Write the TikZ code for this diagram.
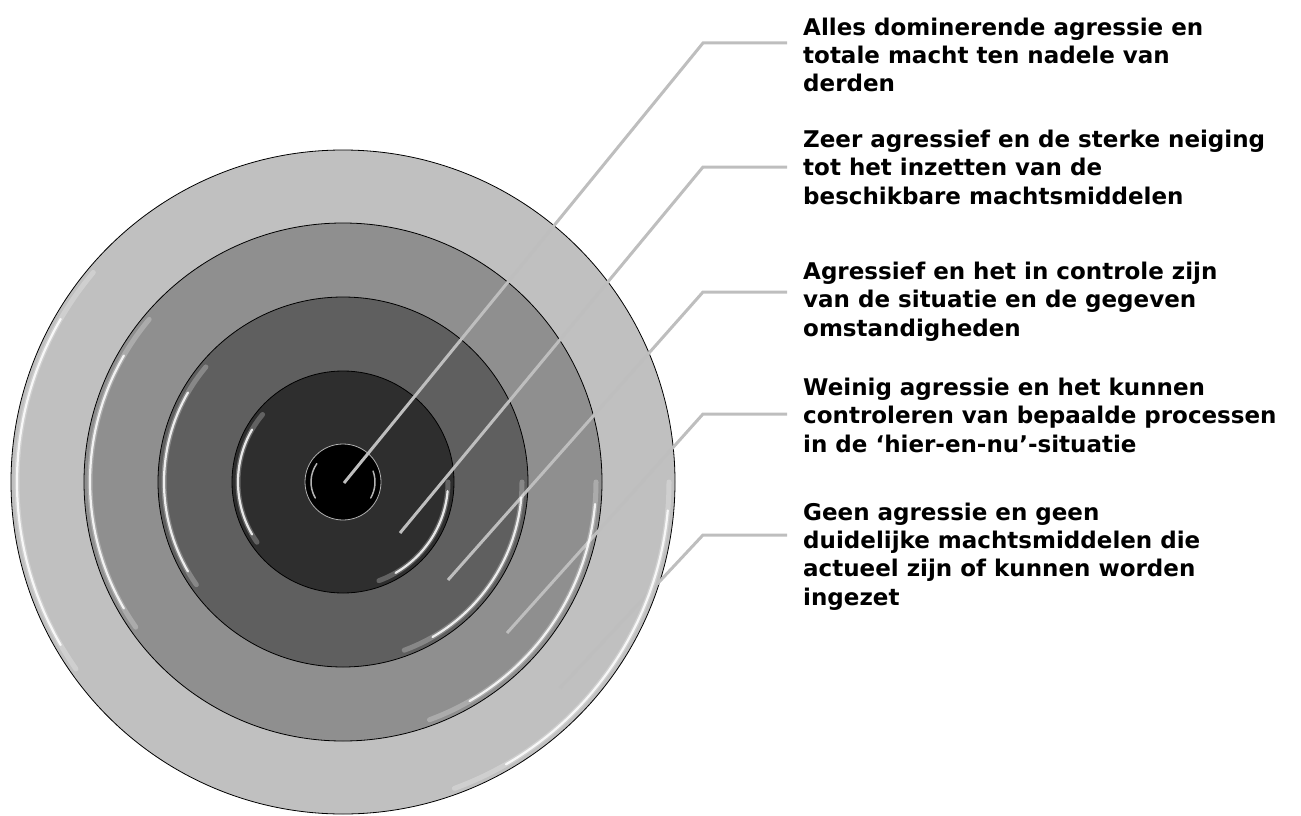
\documentclass[tikz,border=0pt]{standalone}
\usepackage{fontspec}
\newfontfamily\lblfont{DejaVu Sans}
\definecolor{ringA}{RGB}{192,192,192}
\definecolor{ringB}{RGB}{143,143,143}
\definecolor{ringC}{RGB}{95,95,95}
\definecolor{ringD}{RGB}{46,46,46}
\definecolor{leadgray}{RGB}{190,190,190}
\begin{document}
\begin{tikzpicture}[x=1pt,y=-1pt,
  ring/.style={circle, draw=black, line width=0.8pt, inner sep=0pt},
  hl/.style={draw=white, line width=2.2pt, opacity=0.85, line cap=round},
  hlsoft/.style={draw=white, line width=5pt, opacity=0.25, line cap=round},
  leader/.style={draw=leadgray, line width=3pt},
  lbl/.style={anchor=base west, align=left, inner sep=0pt,
    font=\lblfont\bfseries\fontsize{23}{28.3}\selectfont}]
\useasboundingbox (0,0) rectangle (1301,816);
\coordinate (c) at (343,482);
% rings
\node[ring, fill=ringA, minimum size=664pt] (r5) at (c) {};
\node[ring, fill=ringB, minimum size=518pt] (r4) at (c) {};
\node[ring, fill=ringC, minimum size=370pt] (r3) at (c) {};
\node[ring, fill=ringD, minimum size=222pt] (r2) at (c) {};
\node[ring, fill=black, draw=gray!60, minimum size=76pt] (r1) at (c) {};
% leader coordinates
\coordinate (e1) at (344,483); \coordinate (k1) at (703,43);  \coordinate (h1) at (787,43);
\coordinate (e2) at (400,533); \coordinate (k2) at (703,167); \coordinate (h2) at (787,167);
\coordinate (e3) at (448,580); \coordinate (k3) at (703,292); \coordinate (h3) at (787,292);
\coordinate (e4) at (507,633); \coordinate (k4) at (703,414); \coordinate (h4) at (787,414);
\coordinate (e5) at (560,688); \coordinate (k5) at (703,535); \coordinate (h5) at (787,535);
\foreach \i in {1,...,5}{\draw[leader] (e\i) -- (k\i) -- (h\i);}
% glossy highlights
\foreach \r in {326,253,179,105}{
  \draw[hlsoft] ([shift={(145:\r)}]c) arc[start angle=145,end angle=220,radius=\r];
  \draw[hl] ([shift={(150:\r)}]c) arc[start angle=150,end angle=210,radius=\r];
  \draw[hlsoft] ([shift={(0:\r)}]c) arc[start angle=0,end angle=70,radius=\r];
  \draw[hl] ([shift={(5:\r)}]c) arc[start angle=5,end angle=60,radius=\r];
}
\draw[draw=white, line width=1.5pt, opacity=0.7, line cap=round] ([shift={(150:32)}]c) arc[start angle=150,end angle=215,radius=32];
\draw[draw=white, line width=1.5pt, opacity=0.7, line cap=round] ([shift={(-20:32)}]c) arc[start angle=-20,end angle=30,radius=32];
% labels (anchored at the baseline of their last line)
\node[lbl] (t1) at (803,92) {Alles dominerende agressie en\\totale macht ten nadele van\\derden};
\node[lbl] (t2) at (803,204) {Zeer agressief en de sterke neiging\\tot het inzetten van de\\beschikbare machtsmiddelen};
\node[lbl] (t3) at (803,336) {Agressief en het in controle zijn\\van de situatie en de gegeven\\omstandigheden};
\node[lbl] (t4) at (803,452) {Weinig agressie en het kunnen\\controleren van bepaalde processen\\in de ‘hier-en-nu’-situatie};
\node[lbl] (t5) at (803,605) {Geen agressie en geen\\duidelijke machtsmiddelen die\\actueel zijn of kunnen worden\\ingezet};
\end{tikzpicture}
\end{document}
